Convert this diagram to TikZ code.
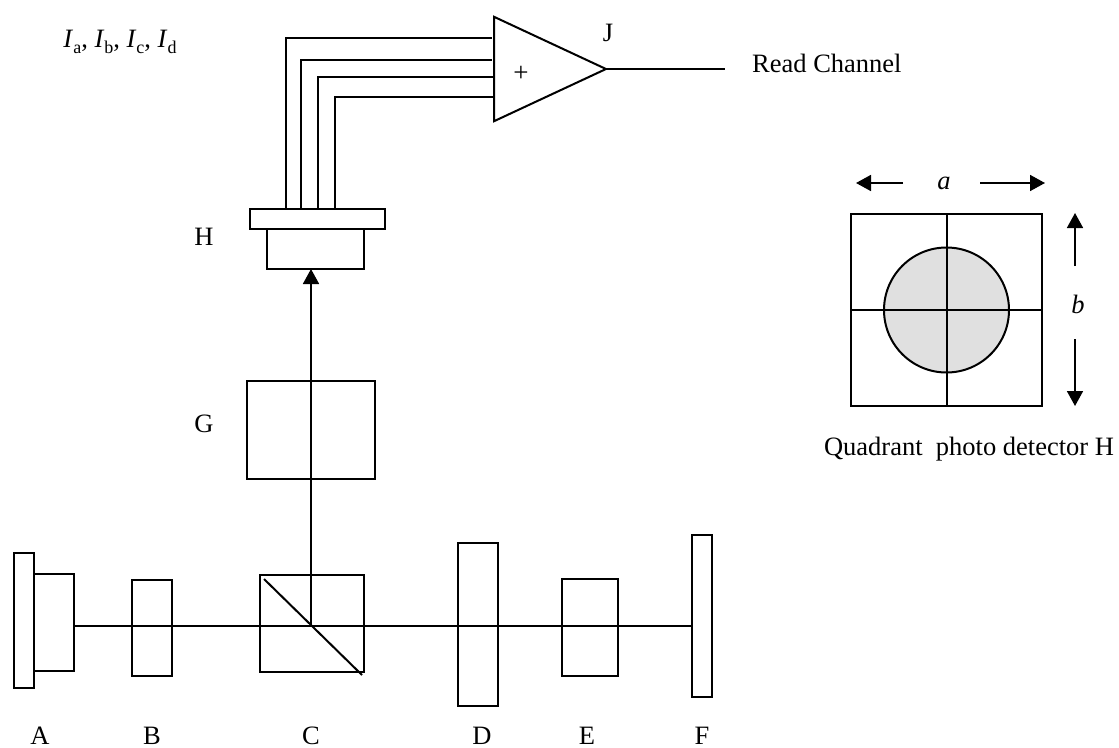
\documentclass[tikz,border=0pt]{standalone}
\usepackage{fontspec}
\setmainfont{Liberation Serif}
\usetikzlibrary{arrows.meta,shapes.geometric}

\definecolor{spotgray}{RGB}{224,224,224}

\newcommand{\current}[1]{\textit{I}\raisebox{-.22em}{\fontsize{18}{18}\selectfont #1}}

\tikzset{
  part/.style={draw,line width=2pt,inner sep=0pt,outer sep=0pt},
  ray/.style={line width=1.7pt},
  wire/.style={line width=2pt},
  bigarrow/.style={line width=1.7pt,-{Triangle[length=15pt,width=16pt]}},
  lbl/.style={font=\fontsize{26.5}{30}\selectfont,inner sep=0pt}
}

\begin{document}
\begin{tikzpicture}[x=1pt,y=-1pt]
\useasboundingbox (0,0) rectangle (1119,747);

% Bench elements
\node[part,minimum width=20pt,minimum height=135pt] (laserbase) at (24,620.5) {};
\node[part,minimum width=40pt,minimum height=97pt] (laser) at (54,622.5) {};
\node[part,minimum width=40pt,minimum height=96pt] (lensB) at (152,628) {};
\node[part,minimum width=104pt,minimum height=97pt] (cube) at (312,623.5) {};
\node[part,minimum width=40pt,minimum height=163pt] (plateD) at (478,624.5) {};
\node[part,minimum width=56pt,minimum height=97pt] (lensE) at (590,627.5) {};
\node[part,minimum width=20pt,minimum height=162pt] (mirror) at (702,616) {};
\node[part,minimum width=128pt,minimum height=98pt] (boxG) at (311,430) {};
\node[part,minimum width=135pt,minimum height=20pt] (plateH) at (317.5,219) {};
\node[part,minimum width=97pt,minimum height=40pt] (boxH) at (315.5,249) {};

% Beams
\coordinate (split) at (311,626);
\draw[ray] (laser.east |- split) -- (mirror.west |- split);
\draw[ray,-{Triangle[length=15pt,width=16pt]}] (split) -- (split |- boxH.south);
\draw[line width=2pt] (264,579) -- (362,675);

% Amplifier
\node[draw,isosceles triangle,isosceles triangle apex angle=50,minimum height=112pt,
      inner sep=0pt,outer sep=0pt,line width=2pt,anchor=apex] (amp) at (606,69) {};
\node[font=\fontsize{27}{30}\selectfont,inner sep=0pt] (plus) at (521,74) {+};
\coordinate (readend) at (725,69);
\draw[wire] (amp.apex) -- (readend);

% Wires from H
\foreach \n/\xa/\ya/\xb in {1/286/38/492,2/301/60/492,3/318/77/494,4/335/97/494} {
  \coordinate (foot\n) at (\xa,209);
  \coordinate (in\n) at (\xb,\ya);
  \draw[wire] (foot\n) |- (in\n);
}

% Detector
\node[part,minimum width=191pt,minimum height=192pt] (det) at (946.5,310) {};
\node[draw,circle,fill=spotgray,line width=2pt,minimum size=125pt,inner sep=0pt,outer sep=0pt] (spot) at (946.5,310) {};
\draw[line width=2pt] (det.north) -- (det.south);
\draw[line width=2pt] (det.west) -- (det.east);

% Size arrows
\node[lbl,font=\fontsize{26.5}{30}\selectfont\itshape] (sizeA) at (944,183) {a};
\node[lbl,font=\fontsize{26.5}{30}\selectfont\itshape] (sizeB) at (1078,304) {b};
\coordinate (aL) at (856,183);
\coordinate (aLs) at (903,183);
\coordinate (aR) at (1045,183);
\coordinate (aRs) at (980,183);
\coordinate (bT) at (1075,213);
\coordinate (bTs) at (1075,266);
\coordinate (bB) at (1075,406);
\coordinate (bBs) at (1075,339);
\draw[bigarrow] (aLs) -- (aL);
\draw[bigarrow] (aRs) -- (aR);
\draw[bigarrow] (bTs) -- (bT);
\draw[bigarrow] (bBs) -- (bB);

% Labels
\node[lbl] (lblA) at (40,735.5) {A};
\node[lbl] (lblB) at (152,735.5) {B};
\node[lbl] (lblC) at (311,735.5) {C};
\node[lbl] (lblD) at (482,735.5) {D};
\node[lbl] (lblE) at (587,735.5) {E};
\node[lbl] (lblF) at (702,735.5) {F};
\node[lbl] (lblG) at (204,424) {G};
\node[lbl] (lblH) at (204,237) {H};
\node[lbl] (lblJ) at (608,33) {J};
\node[lbl,anchor=west] (lblread) at (752,63) {Read Channel};
\node[lbl] (lblquad) at (969,449) {Quadrant\ \ photo detector H};
\node[lbl] (lblcur) at (120,42) {\current{a}, \current{b}, \current{c}, \current{d}};

\end{tikzpicture}
\end{document}
